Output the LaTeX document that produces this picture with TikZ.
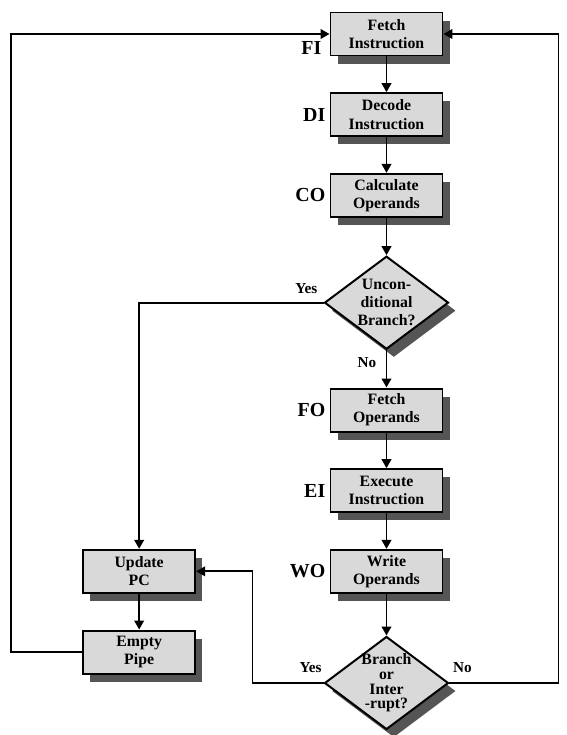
\documentclass[tikz,border=0pt]{standalone}
\usepackage{fontspec}
\setmainfont{Liberation Serif}
\usetikzlibrary{shapes.geometric,shadows,arrows.meta,positioning}
\definecolor{boxgray}{RGB}{217,217,217}
\definecolor{shadegray}{RGB}{85,85,85}

\begin{document}
\begin{tikzpicture}[
  node distance=2.42cm,
  stage/.style={
    rectangle,
    draw,
    line width=1.7pt,
    fill=boxgray,
    inner sep=2pt,
    minimum width=3.36cm,
    minimum height=1.29cm,
    align=center,
    font=\fontsize{13.5}{15.5}\selectfont\bfseries,
    drop shadow={shadow xshift=0.22cm, shadow yshift=-0.24cm, fill=shadegray, opacity=1}},
  decision/.style={
    diamond,
    draw,
    line width=1.7pt,
    fill=boxgray,
    inner sep=0pt,
    minimum width=3.72cm,
    minimum height=2.79cm,
    drop shadow={shadow xshift=0.22cm, shadow yshift=-0.24cm, fill=shadegray, opacity=1}},
  dtext/.style={align=center, inner sep=0pt, font=\fontsize{13.5}{15.5}\selectfont\bfseries},
  tag/.style={inner sep=0pt, font=\fontsize{17}{18}\selectfont\bfseries},
  yn/.style={inner sep=0pt, font=\fontsize{13}{15}\selectfont\bfseries},
  flow/.style={-{Triangle[length=2.7mm,width=2.9mm]}, line width=1.6pt}
  ]
  \useasboundingbox (-11.595,-21.03) rectangle (5.415,1.02);

  % main pipeline column
  \node[stage] (fi) {Fetch\\Instruction};
  \node[stage, below of=fi] (di) {Decode\\Instruction};
  \node[stage, below of=di] (co) {Calculate\\Operands};
  \node[decision, below of=co, yshift=-0.8cm,
    label={[dtext]center:{Uncon-\\ditional\\Branch?}}] (uc) {};
  \node[stage, below of=uc, yshift=-0.8cm] (fo) {Fetch\\Operands};
  \node[stage, below of=fo] (ei) {Execute\\Instruction};
  \node[stage, below of=ei] (wo) {Write\\Operands};
  \node[decision, below of=wo, yshift=-0.93cm,
    label={[dtext, font=\fontsize{13.5}{12.5}\selectfont\bfseries]center:{Branch\\or\\Inter\\-rupt?}}] (bi) {};

  % branch side
  \node[stage, left of=wo, xshift=-5.0cm] (up) {Update\\PC};
  \node[stage, below of=up] (ep) {Empty\\Pipe};

  % stage tags
  \node[tag, anchor=south east] (fitag) at ([xshift=-2.4mm, yshift=0.6mm]fi.south west) {FI};
  \node[tag, left=1.2mm of di] (ditag) {DI};
  \node[tag, left=1.2mm of co] (cotag) {CO};
  \node[tag, left=1.2mm of fo] (fotag) {FO};
  \node[tag, left=1.2mm of ei] (eitag) {EI};
  \node[tag, left=1.2mm of wo] (wotag) {WO};

  % yes / no
  \node[yn, above left=2.7mm and 1.8mm of uc.west] (ucyes) {Yes};
  \node[yn, below left=2mm and 3mm of uc.south] (ucno) {No};
  \node[yn, above left=3mm and 0.5mm of bi.west] (biyes) {Yes};
  \node[yn, above right=3mm and 1mm of bi.east] (bino) {No};

  \draw[flow] (fi) -- (di);
  \draw[flow] (di) -- (co);
  \draw[flow] (co) -- (uc);
  \draw[flow] (uc) -- (fo);
  \draw[flow] (fo) -- (ei);
  \draw[flow] (ei) -- (wo);
  \draw[flow] (wo) -- (bi);
  \draw[flow] (uc.west) -| (up.north);
  \draw[flow] (up) -- (ep);
  \draw[flow] (bi.west) -- ++(-2.13,0) |- (up.east);
  \draw[flow] (bi.east) -- ++(3.27,0) |- (fi.east);
  \draw[flow] (ep.west) -- ++(-2.13,0) |- (fi.west);
\end{tikzpicture}
\end{document}
